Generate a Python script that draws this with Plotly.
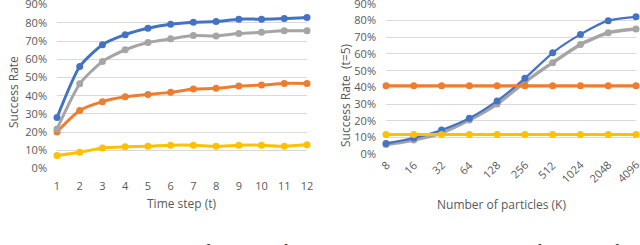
import plotly.graph_objects as go

# ---------------- data ----------------
time_steps = [1, 2, 3, 4, 5, 6, 7, 8, 9, 10, 11, 12]
left_blue = [28, 56, 68, 73.5, 77, 79.2, 80.3, 80.7, 82, 82, 82.3, 82.9]
left_gray = [21.7, 46.5, 58.8, 65.2, 69.2, 71.2, 73, 72.8, 74.1, 74.8, 75.6, 75.6]
left_orange = [20.1, 31.8, 36.7, 39.4, 40.7, 41.8, 43.6, 44, 45.3, 45.8, 46.7, 46.7]
left_yellow = [7.1, 8.9, 11.3, 11.9, 12.2, 12.8, 12.8, 12.2, 12.8, 12.8, 12.2, 13.0]

particles = ["8", "16", "32", "64", "128", "256", "512", "1024", "2048", "4096"]
right_blue = [6.5, 9.7, 14.5, 21.5, 31.9, 45.4, 60.7, 71.7, 79.9, 82.2]
right_gray = [5.8, 8.6, 12.9, 20.5, 30.1, 43.2, 54.8, 65.7, 72.7, 74.9]
right_orange = [41, 41, 41, 41, 41, 41, 41, 41, 41, 41]
right_yellow = [11.8, 11.8, 11.8, 11.8, 11.8, 11.8, 11.8, 11.8, 11.8, 11.8]

y_ticks = [0, 10, 20, 30, 40, 50, 60, 70, 80, 90]
y_tick_text = ["0%", "10%", "20%", "30%", "40%", "50%", "60%", "70%", "80%", "90%"]

BLUE = "#4472C4"
ORANGE = "#ED7D31"
GRAY = "#A5A5A5"
YELLOW = "#FFC000"
TXT = "#595959"
GRID = "#D9D9D9"
FONT = "Open Sans"

# paper is taller than the 245px window so the caption can run past its bottom edge
W, H = 640, 270

fig = go.Figure()

def add(x, y, color, xa, ya, width=3):
    fig.add_trace(go.Scatter(
        x=x, y=y, mode="lines+markers", xaxis=xa, yaxis=ya,
        line=dict(color=color, width=width, shape="spline", smoothing=0.6),
        marker=dict(color=color, size=7),
        cliponaxis=False, showlegend=False, hoverinfo="skip"))

add(time_steps, left_blue, BLUE, "x", "y")
add(time_steps, left_orange, ORANGE, "x", "y")
add(time_steps, left_gray, GRAY, "x", "y")
add(time_steps, left_yellow, YELLOW, "x", "y")

add(particles, right_gray, GRAY, "x2", "y2", 3.5)
add(particles, right_blue, BLUE, "x2", "y2", 2.2)
add(particles, right_orange, ORANGE, "x2", "y2")
add(particles, right_yellow, YELLOW, "x2", "y2")

def px_x(v):
    return v / W

def px_y(v):
    return (H - v) / H

tickfont = dict(family=FONT, size=11, color=TXT)

fig.update_layout(
    width=W, height=H,
    margin=dict(l=0, r=0, t=0, b=0, autoexpand=False),
    paper_bgcolor="white", plot_bgcolor="white",
    font=dict(family=FONT, color=TXT),
    xaxis=dict(
        domain=[px_x(57), px_x(307)], range=[1, 12],
        tickmode="array", tickvals=time_steps, ticktext=[str(t) for t in time_steps],
        showgrid=False, zeroline=False, showline=False, ticks="", automargin=False,
        ticklabeloverflow="allow",
        tickfont=tickfont, ticklabelstandoff=9, anchor="y"),
    yaxis=dict(
        domain=[px_y(168.5), px_y(4.5)], range=[0, 90.05],
        tickmode="array", tickvals=y_ticks, ticktext=y_tick_text,
        showgrid=True, gridcolor=GRID, gridwidth=1, zeroline=False, automargin=False,
        ticklabeloverflow="allow",
        showline=False, ticks="", tickfont=tickfont, ticklabelstandoff=9,
        anchor="x"),
    xaxis2=dict(
        domain=[px_x(386), px_x(636)], range=[0, 9], type="category",
        showgrid=False, zeroline=False, showline=False, ticks="", automargin=False,
        showticklabels=False, anchor="y2"),
    yaxis2=dict(
        domain=[px_y(154.3), px_y(3.7)], range=[0, 90.05],
        tickmode="array", tickvals=y_ticks, ticktext=y_tick_text,
        showgrid=True, gridcolor=GRID, gridwidth=1, zeroline=False, automargin=False,
        ticklabeloverflow="allow",
        showline=False, ticks="", tickfont=tickfont, ticklabelstandoff=9,
        anchor="x2"),
)

titlefont = dict(family=FONT, size=12, color=TXT)
capfont = dict(family="Liberation Serif", size=19, color="black")
ann = [
    dict(text="Time step (t)", x=px_x(182), y=px_y(203), xanchor="center", yanchor="middle",
         font=titlefont),
    dict(text="Number of particles (K)", x=px_x(501), y=px_y(204), xanchor="center",
         yanchor="middle", font=titlefont),
    dict(text="Success Rate", x=px_x(13), y=px_y(92), xanchor="center", yanchor="middle",
         textangle=-90, font=titlefont),
    dict(text="Success Rate  (t=5)", x=px_x(345), y=px_y(95), xanchor="center",
         yanchor="middle", textangle=-90, font=titlefont),
    dict(text="Fig. 10:  Success rate as a function of time", x=px_x(1), y=px_y(239),
         xanchor="left", yanchor="top", font=capfont),
    dict(text="Fig. 11:  Success rate as a function of the", x=px_x(333), y=px_y(239),
         xanchor="left", yanchor="top", font=capfont),
]
for a in ann:
    a.update(xref="paper", yref="paper", showarrow=False)

# rotated category labels for the right chart
for i, lab in enumerate(particles):
    L = 6.3 * len(lab)
    half = L / 2 * 0.7071
    ann.append(dict(text=lab, x=i, xref="x2", xshift=1 - half,
                    y=px_y(163 + half), yref="paper",
                    xanchor="center", yanchor="middle", textangle=-45,
                    showarrow=False, font=tickfont))

fig.update_layout(annotations=ann)

fig.write_html("out.html",
               config={"displayModeBar": False, "staticPlot": True},
               post_script="document.body.style.margin='0';document.body.style.overflow='hidden';")
